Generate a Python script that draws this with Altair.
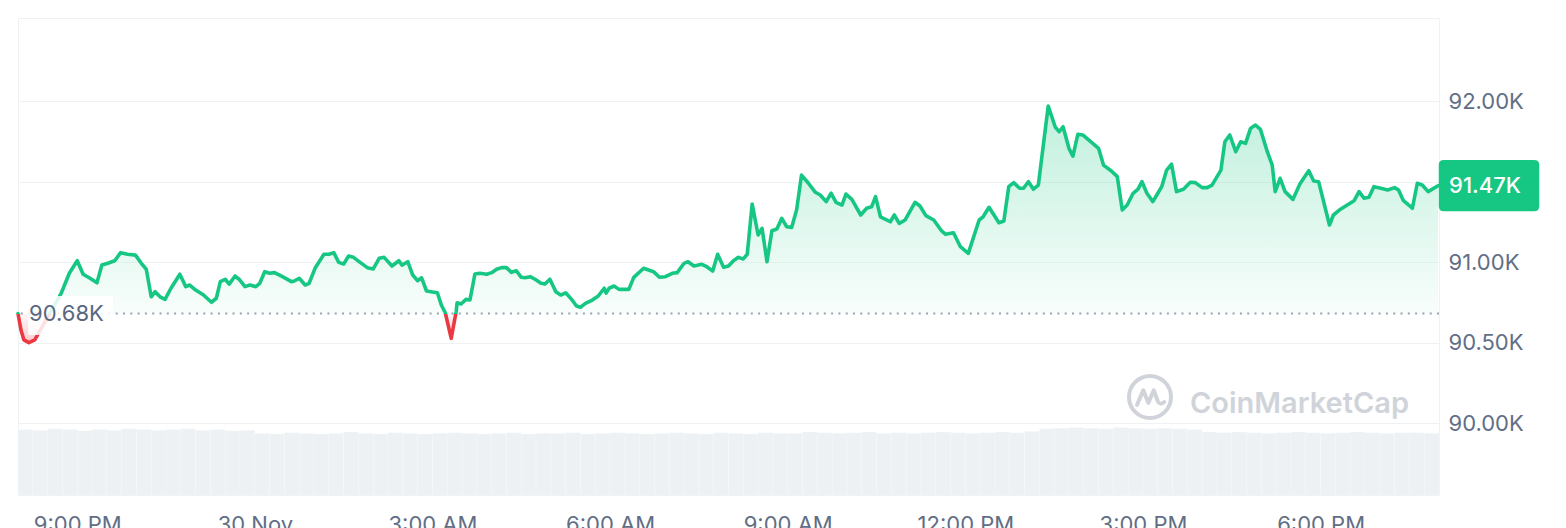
import altair as alt
import pandas as pd

# ---- data (minutes after 20:00 on 29 Nov, price in thousands USD) ----
minutes = [0, 3, 6, 11, 17, 44, 52, 60, 66, 73, 80, 85, 91, 98, 104, 111, 119, 125, 130, 135,
           139, 144, 149, 155, 164, 170, 174, 180, 188, 196, 201, 205, 210, 214, 220, 224, 230, 235, 241, 245,
           250, 255, 260, 268, 277, 280, 285, 291,
           295, 301, 310, 315, 320, 325, 330, 335, 340, 347, 354, 360, 366, 371, 379, 386, 389, 395, 400, 405,
           409, 414, 420, 425, 429, 433, 439, 444, 445, 449, 454, 458, 463, 468, 475, 480, 485, 490, 495, 500,
           505, 510, 514, 519, 524, 530, 534, 539, 545, 550, 555, 561, 566, 570, 575, 582,
           588, 594, 596, 599, 604, 609, 619, 624, 634, 644, 650, 656, 663, 668, 675, 679, 685, 693, 698, 704,
           709, 715, 720, 725, 730, 735, 739, 744, 750, 754, 759, 764, 769, 774, 779, 784, 789, 794, 801, 808,
           813, 819, 824, 829, 835, 839, 845, 854, 860, 865, 869, 874, 884, 888, 893, 899, 909, 914, 920, 928,
           936, 940, 948, 955, 963, 974, 978, 984, 994, 999, 1004, 1009, 1015, 1019, 1024, 1029, 1034, 1044, 1051, 1055,
           1059, 1065, 1069, 1074, 1079, 1087, 1095, 1100, 1108, 1114, 1119, 1124, 1130, 1135, 1139, 1144, 1150, 1154, 1159, 1164,
           1169, 1174, 1181, 1188, 1193, 1200, 1205, 1210, 1219, 1223, 1228, 1234, 1239, 1244, 1249, 1254, 1259, 1266, 1271, 1274,
           1279, 1284, 1292, 1299, 1308, 1313, 1318, 1329, 1333, 1339, 1347, 1354, 1359, 1364, 1369, 1374, 1381, 1388, 1395, 1399,
           1404, 1413, 1418, 1423, 1429, 1439]

price_k = [90.680, 90.578, 90.516, 90.499, 90.516, 90.809, 90.930, 91.008, 90.924, 90.899,
           90.871, 90.981, 90.992, 91.008, 91.058, 91.048, 91.043, 90.992, 90.955, 90.784,
           90.816, 90.784, 90.768, 90.837, 90.924, 90.847, 90.857, 90.826, 90.795, 90.750,
           90.775, 90.878, 90.893, 90.863, 90.913, 90.893, 90.847, 90.857, 90.847, 90.868,
           90.940, 90.930, 90.934, 90.909, 90.878, 90.882, 90.899, 90.857,
           90.868, 90.961, 91.048, 91.048, 91.058, 90.998, 90.988, 91.037, 91.029, 90.996,
           90.965, 90.957, 91.023, 91.029, 90.975, 91.008, 90.981, 91.002, 90.919, 90.884,
           90.902, 90.820, 90.814, 90.809, 90.733, 90.685, 90.526, 90.691, 90.747, 90.739,
           90.768, 90.764, 90.925, 90.930, 90.924, 90.934, 90.955, 90.965, 90.965, 90.936,
           90.946, 90.905, 90.902, 90.909, 90.893, 90.868, 90.863, 90.893, 90.816, 90.795,
           90.809, 90.768, 90.727, 90.719, 90.743, 90.764,
           90.789, 90.837, 90.807, 90.837, 90.851, 90.830, 90.830, 90.905, 90.961, 90.940,
           90.905, 90.909, 90.930, 90.934, 90.992, 91.002, 90.975, 90.986, 90.971, 90.944,
           91.048, 90.967, 90.975, 91.008, 91.029, 91.019, 91.048, 91.360, 91.168, 91.209,
           91.002, 91.194, 91.205, 91.271, 91.219, 91.215, 91.323, 91.540, 91.489, 91.433,
           91.416, 91.375, 91.427, 91.371, 91.354, 91.422, 91.389, 91.292, 91.334, 91.343,
           91.406, 91.281, 91.250, 91.292, 91.240, 91.261, 91.371, 91.348, 91.288, 91.261,
           91.193, 91.172, 91.182, 91.095, 91.054, 91.261, 91.281, 91.340, 91.244, 91.255,
           91.468, 91.493, 91.458, 91.458, 91.499, 91.452, 91.478, 91.969, 91.840, 91.809,
           91.840, 91.706, 91.658, 91.793, 91.789, 91.747, 91.706, 91.602, 91.565, 91.530,
           91.323, 91.354, 91.427, 91.453, 91.499, 91.427, 91.375, 91.416, 91.468, 91.571,
           91.607, 91.437, 91.452, 91.495, 91.493, 91.462, 91.462, 91.478, 91.571, 91.747,
           91.789, 91.685, 91.747, 91.737, 91.830, 91.851, 91.824, 91.685, 91.602, 91.437,
           91.520, 91.437, 91.389, 91.484, 91.567, 91.503, 91.499, 91.230, 91.292, 91.323,
           91.354, 91.381, 91.437, 91.396, 91.402, 91.468, 91.458, 91.447, 91.462, 91.447,
           91.381, 91.334, 91.489, 91.478, 91.437, 91.474]

# volume per 15-minute bucket (relative units)
volume_minutes = [i * 15 for i in range(96)]
volume = [1.03, 1.02, 1.04, 1.03, 1.01, 1.03, 1.02, 1.04, 1.03, 1.02, 1.03, 1.04, 1.02, 1.03, 1.01, 1.02,
          0.97, 0.96, 0.98, 0.97, 0.96, 0.97, 0.99, 0.97, 0.96, 0.98, 0.97, 0.96, 0.97, 0.98, 0.97, 0.96,
          0.97, 0.98, 0.96, 0.97, 0.97, 0.98, 0.96, 0.97, 0.98, 0.97, 0.96, 0.97, 0.98, 0.97, 0.96, 0.98,
          0.97, 0.96, 0.98, 0.97, 0.97, 0.99, 0.98, 0.97, 0.98, 0.99, 0.97, 0.98, 0.97, 0.98, 0.99, 0.98,
          0.97, 0.98, 0.99, 0.98, 1.00, 1.04, 1.05, 1.06, 1.05, 1.04, 1.06, 1.05, 1.04, 1.05, 1.04, 1.03,
          0.99, 0.98, 0.99, 0.98, 0.97, 0.98, 0.99, 0.98, 0.97, 0.98, 0.99, 0.98, 0.97, 0.98, 0.98, 0.97]

open_price = 90.68
last_price = price_k[-1]
last_label = 91.47

x_ticks = [60, 240, 420, 600, 780, 960, 1140, 1320]
x_tick_labels = ["9:00 PM", "30 Nov", "3:00 AM", "6:00 AM", "9:00 AM", "12:00 PM", "3:00 PM", "6:00 PM"]
y_ticks = [90.0, 90.5, 91.0, 91.5, 92.0]
hidden_y_tick = 91.5

# ---- styling ----
GREEN = "#16c784"
RED = "#ea3943"
GRID = "#eff2f5"
LABEL = "#616e85"
FONT = "Inter"
WATERMARK = "#d0d4da"

price_df = pd.DataFrame({"m": minutes, "p": price_k})
vol_df = pd.DataFrame({"m": volume_minutes, "v": volume})
one = pd.DataFrame({"k": [0]})

x_scale = alt.Scale(domain=[0, 1440], nice=False, zero=False)
y_scale = alt.Scale(domain=[89.553, 92.5155], nice=False, zero=False)

label_expr = ("[" + ",".join("'%s'" % s for s in x_tick_labels) + "][indexof("
              + str(x_ticks) + ", datum.value)]")
x_axis = alt.Axis(values=x_ticks, labelExpr=label_expr, domain=False, ticks=False, grid=False,
                  labelPadding=19, labelFont=FONT, labelFontSize=22, labelColor=LABEL,
                  title=None, labelFlush=False, labelOverlap=False)
y_axis = alt.Axis(orient="right", values=y_ticks,
                  labelExpr="datum.value == %s ? '' : format(datum.value, '.2f') + 'K'" % hidden_y_tick,
                  domain=False, ticks=False, grid=True, gridColor=GRID, gridWidth=1,
                  labelPadding=9, labelFont=FONT, labelFontSize=22, labelColor=LABEL,
                  title=None, labelOverlap=False, labelFlush=False)

X = alt.X("m:Q", scale=x_scale, axis=x_axis)
Y = alt.Y("p:Q", scale=y_scale, axis=y_axis)

# gradient split at the opening price (relative to the series bounding box)
vmax, vmin = max(price_k), min(price_k)
t = (vmax - open_price) / (vmax - vmin)

line_grad = alt.LinearGradient(
    gradient="linear", x1=0, x2=0, y1=0, y2=1,
    stops=[alt.GradientStop(offset=0, color=GREEN), alt.GradientStop(offset=t, color=GREEN),
           alt.GradientStop(offset=t, color=RED), alt.GradientStop(offset=1, color=RED)])
fill_grad = alt.LinearGradient(
    gradient="linear", x1=0, x2=0, y1=0, y2=1,
    stops=[alt.GradientStop(offset=0, color=GREEN), alt.GradientStop(offset=t, color="#e6f9f0"),
           alt.GradientStop(offset=t, color="#fde8e9"), alt.GradientStop(offset=1, color=RED)])

# volume bars (own y scale)
vol_layer = alt.Chart(vol_df).transform_calculate(m2="datum.m + 15").mark_rect(
    color="#eef1f4", stroke="#ffffff", strokeWidth=0.5, strokeOpacity=0.35
).encode(
    x=X, x2="m2:Q",
    y=alt.Y("v:Q", scale=alt.Scale(domain=[0, 7.5], nice=False, zero=True), axis=None),
    y2=alt.Y2Datum(0),
)

base = alt.Chart(price_df)
area = base.mark_area(fill=fill_grad, fillOpacity=0.27, interpolate="linear").encode(
    x=X, y=Y, y2=alt.Y2Datum(open_price))
line = base.mark_line(stroke=line_grad, strokeWidth=3.6, strokeJoin="round", strokeCap="round",
                      interpolate="linear").encode(x=X, y=Y)

rule = alt.Chart(pd.DataFrame({"p": [open_price]})).mark_rule(
    color="#9aa2b1", strokeWidth=2, strokeDash=[2, 5.3]).encode(y=Y)

label_bg = alt.Chart(one).mark_rect(color="white", opacity=0.85).encode(
    x=alt.value(10), x2=alt.value(95), y=alt.value(278), y2=alt.value(317))
open_label = alt.Chart(one).mark_text(
    align="left", baseline="middle", font=FONT, fontSize=22, color="#58667e",
    text="%.2fK" % open_price).encode(
    x=alt.value(11), y=alt.YDatum(open_price, scale=y_scale, axis=y_axis))

badge_path = ("M-0.9,-0.51 H0.9 Q1,-0.51 1,-0.41 V0.41 Q1,0.51 0.9,0.51 H-0.9 "
              "Q-1,0.51 -1,0.41 V-0.41 Q-1,-0.51 -0.9,-0.51 Z")
badge = alt.Chart(one).mark_point(shape=badge_path, size=10100, filled=True, fill=GREEN,
                                  strokeWidth=0, opacity=1).encode(
    x=alt.value(1471), y=alt.YDatum(last_price, scale=y_scale, axis=y_axis))
badge_text = alt.Chart(one).mark_text(
    align="center", baseline="middle", font=FONT, fontSize=22, fontWeight=500, color="white",
    text="%.2fK" % last_label).encode(
    x=alt.value(1467), y=alt.YDatum(last_price, scale=y_scale, axis=y_axis))

# watermark
ring = alt.Chart(one).mark_point(shape="circle", filled=False, stroke=WATERMARK, strokeWidth=4,
                                 size=1764, opacity=1).encode(x=alt.value(1132), y=alt.value(379))
swoosh_path = "M-0.62,0.38 L-0.32,-0.32 L-0.08,0.28 L0.18,-0.32 L0.36,0.18 Q0.46,0.42 0.68,0.24"
swoosh = alt.Chart(one).mark_point(shape=swoosh_path, filled=False, stroke=WATERMARK, strokeWidth=4,
                                   size=1764, opacity=1, strokeJoin="round", strokeCap="round").encode(
    x=alt.value(1132), y=alt.value(379))
wm_text = alt.Chart(one).mark_text(
    align="left", baseline="alphabetic", font=FONT, fontSize=29, fontWeight=600, color=WATERMARK,
    text="CoinMarketCap").encode(x=alt.value(1172), y=alt.value(395))

price_layers = alt.layer(area, rule, line, label_bg, open_label, badge, badge_text, ring, swoosh, wm_text)

chart = alt.layer(vol_layer, price_layers).resolve_scale(y="independent").properties(
    width=1421, height=477,
    padding={"left": 8, "top": 10, "right": 5, "bottom": 5},
    background="white",
).configure_view(stroke=GRID, strokeWidth=1)

chart.save("out.html", embed_options={"renderer": "svg", "actions": False})
